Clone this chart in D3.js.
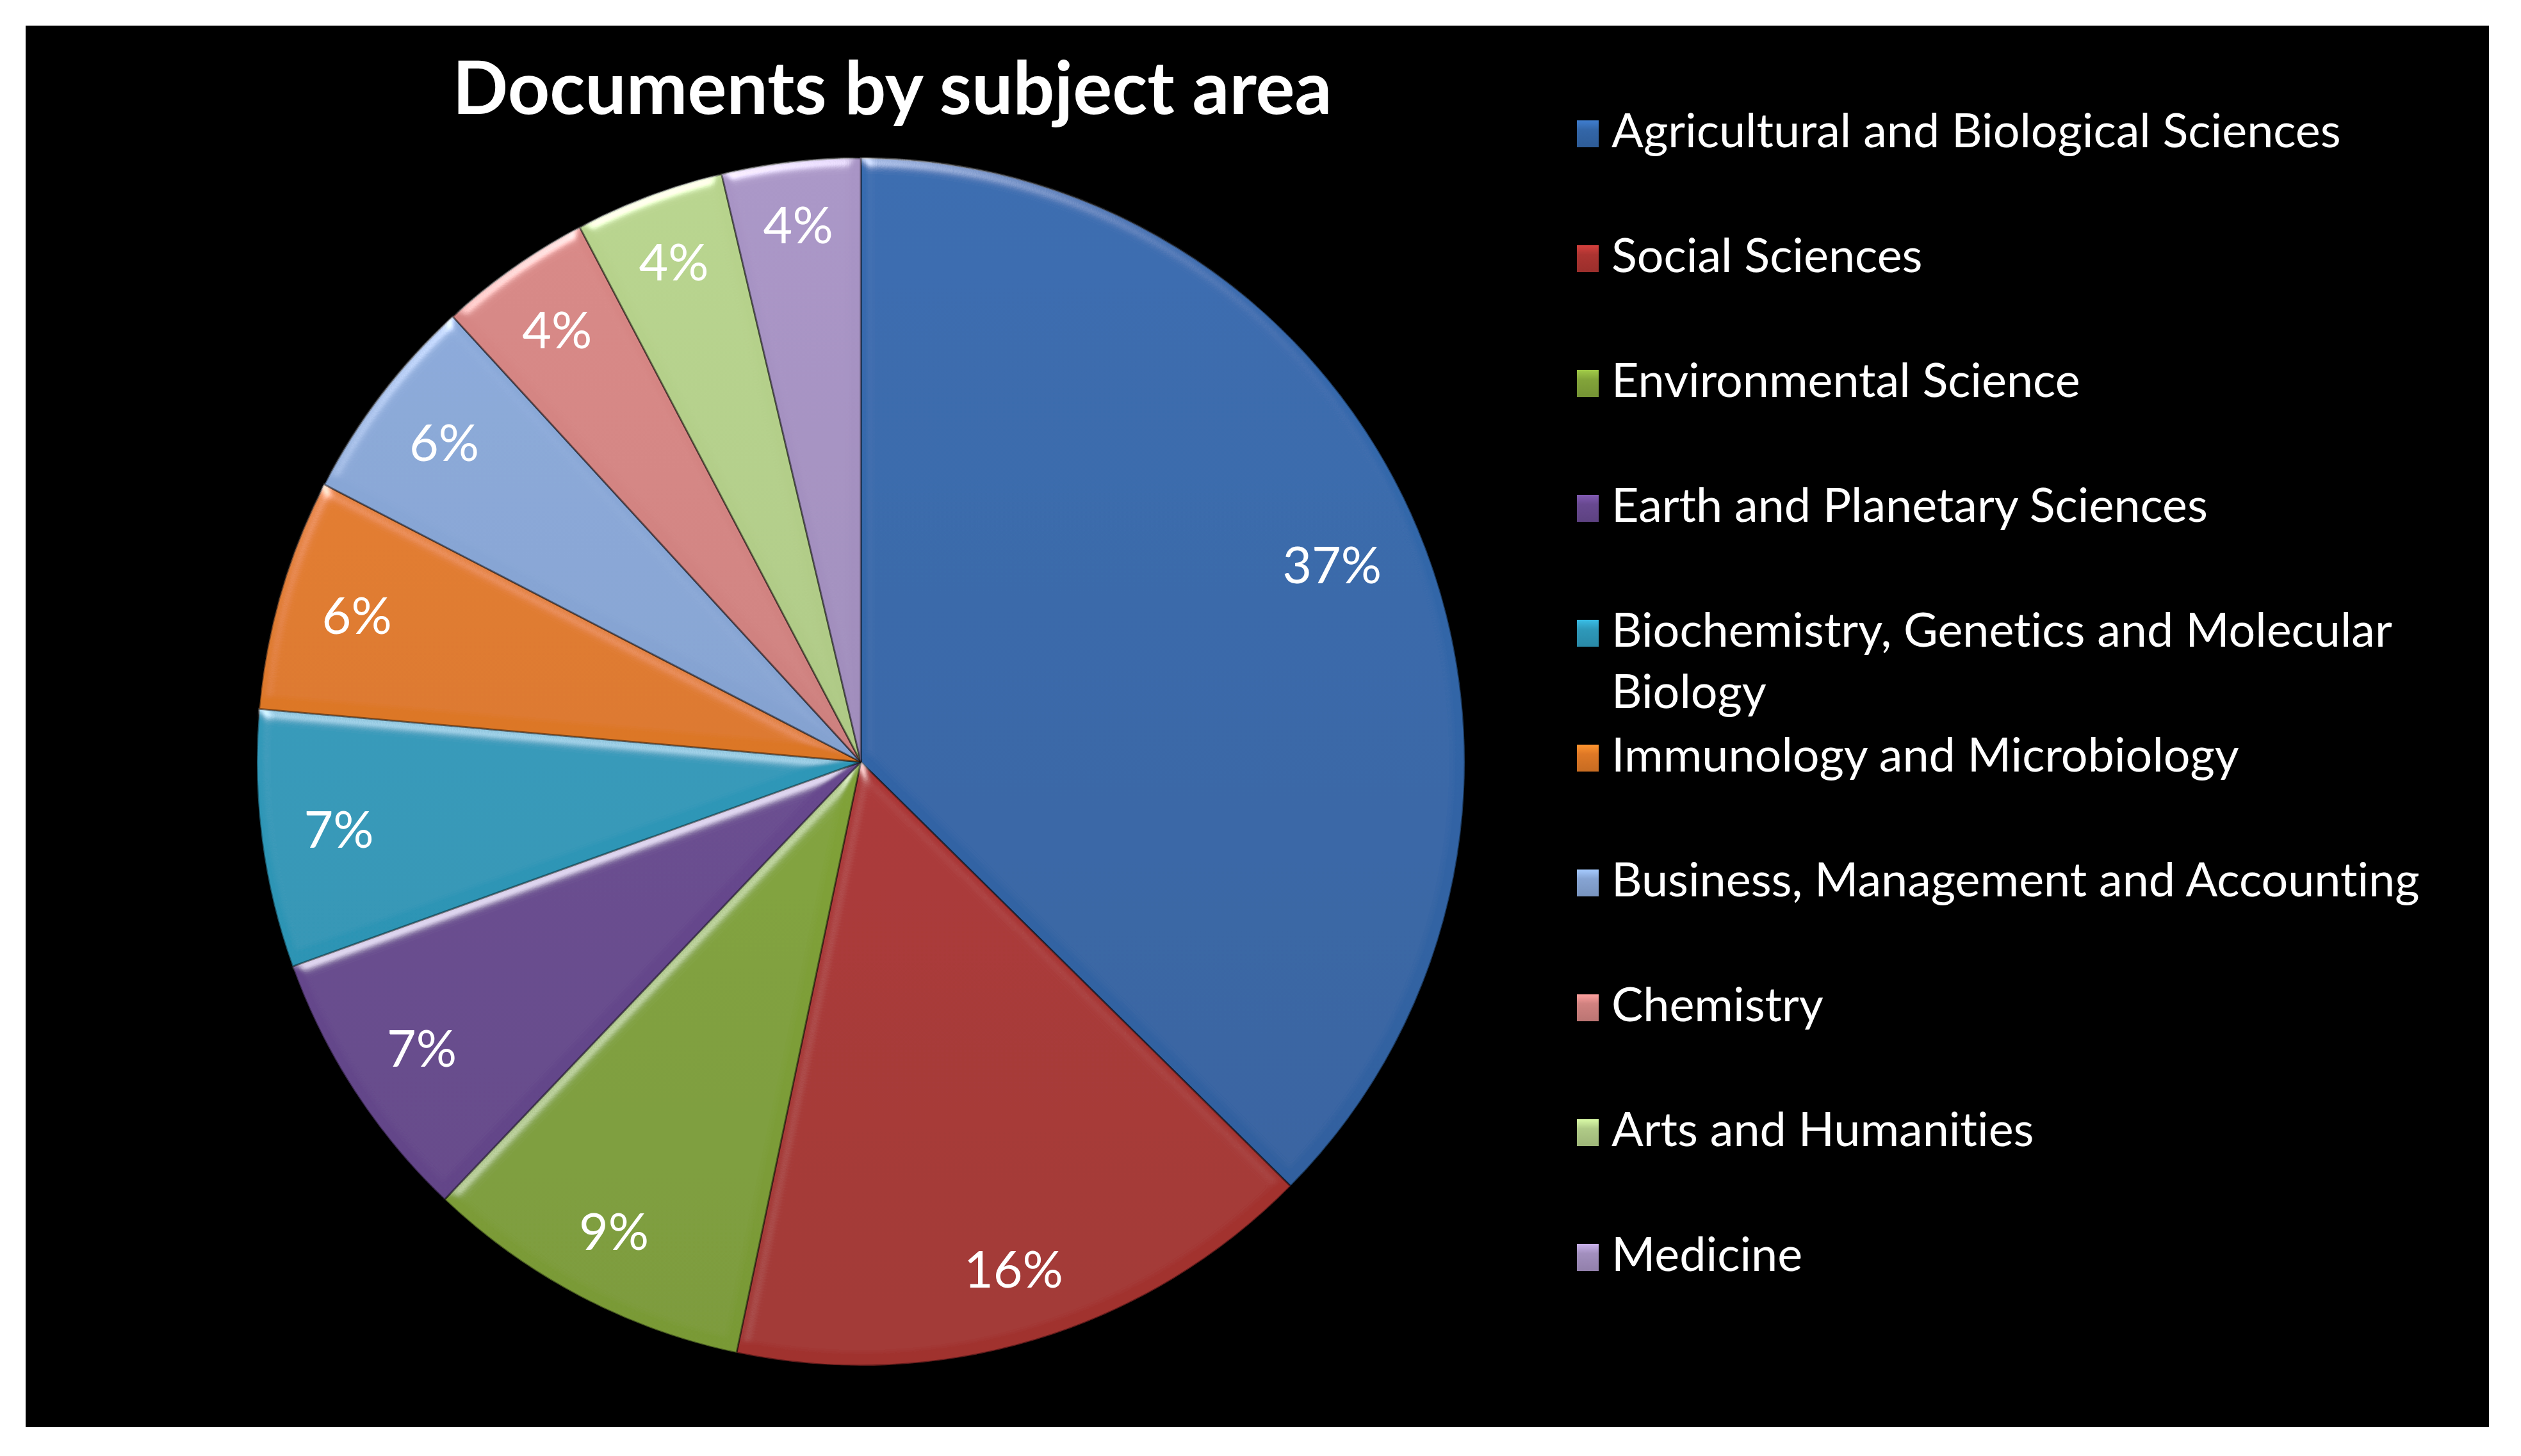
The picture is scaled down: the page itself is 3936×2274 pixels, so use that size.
<!DOCTYPE html>
<html>
<head>
<meta charset="utf-8">
<style>
    body {
        margin: 0;
        background: #fff;
    }
    svg {
        display: block;
    }
    text {
        font-family: Lato, "Open Sans", sans-serif;
        font-variant-ligatures: none;
        font-feature-settings: "liga" 0, "clig" 0, "dlig" 0;
        fill: #fff;
    }
</style>
<script src="https://cdn.jsdelivr.net/npm/d3@7"></script>
</head>
<body>
<svg id="chart"></svg>
<script>
    // values (share of documents, %)
    const categories = [
        "Agricultural and Biological Sciences",
        "Social Sciences",
        "Environmental Science",
        "Earth and Planetary Sciences",
        "Biochemistry, Genetics and Molecular Biology",
        "Immunology and Microbiology",
        "Business, Management and Accounting",
        "Chemistry",
        "Arts and Humanities",
        "Medicine"
    ];
    const shares = [37.4, 15.9, 8.8, 7.4, 6.9, 6.2, 5.6, 4.1, 4.0, 3.7];
    const sliceColors = ["#3366A8", "#AC3431", "#82A43A", "#684990", "#2E99BA",
                         "#DE7826", "#86A4D3", "#D08280", "#B0CB87", "#A28FBE"];
    const chartTitle = "Documents by subject area";

    function getConfig() {
        let width = 3936;
        let height = 2274;
        let frame = { left: 40, top: 40, right: 3886, bottom: 2229 };
        let pie = { cx: 1344, cy: 1190, r: 943 };
        let legend = { x: 2462, textX: 2516, firstBaseline: 230, step: 195, lineStep: 96, wrapWidth: 1340 };
        let svg = d3.select('#chart')
            .attr('width', width)
            .attr('height', height);
        return { width, height, frame, pie, legend, svg };
    }

    // set font-size so that the text gets the wanted width
    function fitWidth(sel, target) {
        let fs = parseFloat(sel.attr('font-size'));
        let w = sel.node().getComputedTextLength();
        sel.attr('font-size', fs * target / w);
        return fs * target / w;
    }

    function measureSize(svg, str, target, weight) {
        let t = svg.append('text')
            .attr('font-size', 100)
            .attr('font-weight', weight || 400)
            .text(str);
        let fs = fitWidth(t, target);
        t.remove();
        return fs;
    }

    function drawBackground(config) {
        let { svg, frame } = config;
        svg.append('rect')
            .attr('x', frame.left)
            .attr('y', frame.top)
            .attr('width', frame.right - frame.left)
            .attr('height', frame.bottom - frame.top)
            .attr('fill', '#000');
    }

    function addDefs(config) {
        let { svg, pie } = config;
        let defs = svg.append('defs');
        let pad = pie.r + 60;

        // soft bevel, light coming from the upper side
        // (region is in the pie group's own coordinates, centred on 0,0)
        let f = defs.append('filter')
            .attr('id', 'bevel')
            .attr('filterUnits', 'userSpaceOnUse')
            .attr('x', -pad).attr('y', -pad)
            .attr('width', 2 * pad).attr('height', 2 * pad);
        f.append('feGaussianBlur')
            .attr('in', 'SourceAlpha')
            .attr('stdDeviation', 10)
            .attr('result', 'blur');
        f.append('feSpecularLighting')
            .attr('in', 'blur')
            .attr('surfaceScale', 7)
            .attr('specularConstant', 0.6)
            .attr('specularExponent', 40)
            .attr('lighting-color', '#fff')
            .attr('result', 'spec')
            .append('feDistantLight')
            .attr('azimuth', 250)
            .attr('elevation', 40);
        f.append('feComposite')
            .attr('in', 'spec').attr('in2', 'SourceAlpha')
            .attr('operator', 'in').attr('result', 'specIn');
        f.append('feComposite')
            .attr('in', 'SourceGraphic').attr('in2', 'specIn')
            .attr('operator', 'arithmetic')
            .attr('k1', 0).attr('k2', 1).attr('k3', 1).attr('k4', 0);

        sliceColors.forEach((c, i) => {
            let g = defs.append('linearGradient')
                .attr('id', 'slice' + i)
                .attr('gradientUnits', 'userSpaceOnUse')
                .attr('x1', 0).attr('x2', 0)
                .attr('y1', -pie.r).attr('y2', pie.r);
            g.append('stop').attr('offset', 0).attr('stop-color', d3.color(c).brighter(0.12));
            g.append('stop').attr('offset', 1).attr('stop-color', d3.color(c).darker(0.2));

            let m = defs.append('linearGradient')
                .attr('id', 'marker' + i)
                .attr('x1', 0).attr('x2', 0).attr('y1', 0).attr('y2', 1);
            m.append('stop').attr('offset', 0).attr('stop-color', d3.color(c).brighter(0.6));
            m.append('stop').attr('offset', 0.35).attr('stop-color', c);
            m.append('stop').attr('offset', 1).attr('stop-color', d3.color(c).darker(0.3));
        });
    }

    function drawTitle(config) {
        let t = config.svg.append('text')
            .attr('x', 1393)
            .attr('y', 178)
            .attr('text-anchor', 'middle')
            .attr('font-weight', 700)
            .attr('font-size', 100)
            .text(chartTitle);
        fitWidth(t, 1373);
    }

    function drawPie(config) {
        let { svg, pie } = config;
        let data = categories.map((name, i) => ({ name, value: shares[i], i }));
        let total = d3.sum(shares);

        let arcs = d3.pie()
            .sort(null)
            .value(d => d.value)(data);
        let arc = d3.arc()
            .innerRadius(0)
            .outerRadius(pie.r);

        let body = svg.append('g')
            .attr('transform', `translate(${pie.cx},${pie.cy})`);

        body.selectAll('.slice')
            .data(arcs)
            .enter().append('path')
            .attr('class', 'slice')
            .attr('d', arc)
            .attr('fill', d => `url(#slice${d.data.i})`)
            .attr('stroke', 'rgba(0,0,0,0.4)')
            .attr('stroke-width', 3)
            .attr('filter', 'url(#bevel)');

        // labels: "inside end", the box sits just inside the rim
        let fs = measureSize(svg, '37%', 155);
        let rIn = pie.r * 0.933;
        arcs.forEach(d => {
            let pct = Math.round(d.data.value / total * 100) + '%';
            let t = body.append('text')
                .attr('font-size', fs)
                .attr('text-anchor', 'middle')
                .text(pct);
            let hw = t.node().getComputedTextLength() / 2;
            let hh = fs * 0.36;
            let a = (d.startAngle + d.endAngle) / 2;
            let ux = Math.sin(a), uy = -Math.cos(a);
            let cx = ux >= 0 ? hw : -hw;
            let cy = uy >= 0 ? hh : -hh;
            let uc = ux * cx + uy * cy;
            let dist = -uc + Math.sqrt(uc * uc - (cx * cx + cy * cy) + rIn * rIn);
            t.attr('x', ux * dist)
             .attr('y', uy * dist + hh);
        });
    }

    function wrapLines(svg, str, fs, maxWidth) {
        let t = svg.append('text').attr('font-size', fs);
        let words = str.split(' ');
        let lines = [];
        let line = [];
        words.forEach(w => {
            t.text(line.concat(w).join(' '));
            if (line.length && t.node().getComputedTextLength() > maxWidth) {
                lines.push(line.join(' '));
                line = [w];
            } else {
                line.push(w);
            }
        });
        lines.push(line.join(' '));
        t.remove();
        return lines;
    }

    function drawLegend(config) {
        let { svg, legend } = config;
        let fs = measureSize(svg, categories[0], 1139);
        let g = svg.append('g');

        categories.forEach((name, i) => {
            let base = legend.firstBaseline + i * legend.step;
            g.append('rect')
                .attr('x', legend.x)
                .attr('y', base - 42)
                .attr('width', 34)
                .attr('height', 42)
                .attr('fill', `url(#marker${i})`);

            let lines = wrapLines(svg, name, fs, legend.wrapWidth);
            let t = g.append('text')
                .attr('x', legend.textX)
                .attr('y', base)
                .attr('font-size', fs);
            lines.forEach((l, k) => {
                t.append('tspan')
                    .attr('x', legend.textX)
                    .attr('dy', k === 0 ? 0 : legend.lineStep)
                    .text(l);
            });
        });
    }

    let config = getConfig();
    drawBackground(config);
    addDefs(config);
    drawTitle(config);
    drawPie(config);
    drawLegend(config);
</script>
</body>
</html>
